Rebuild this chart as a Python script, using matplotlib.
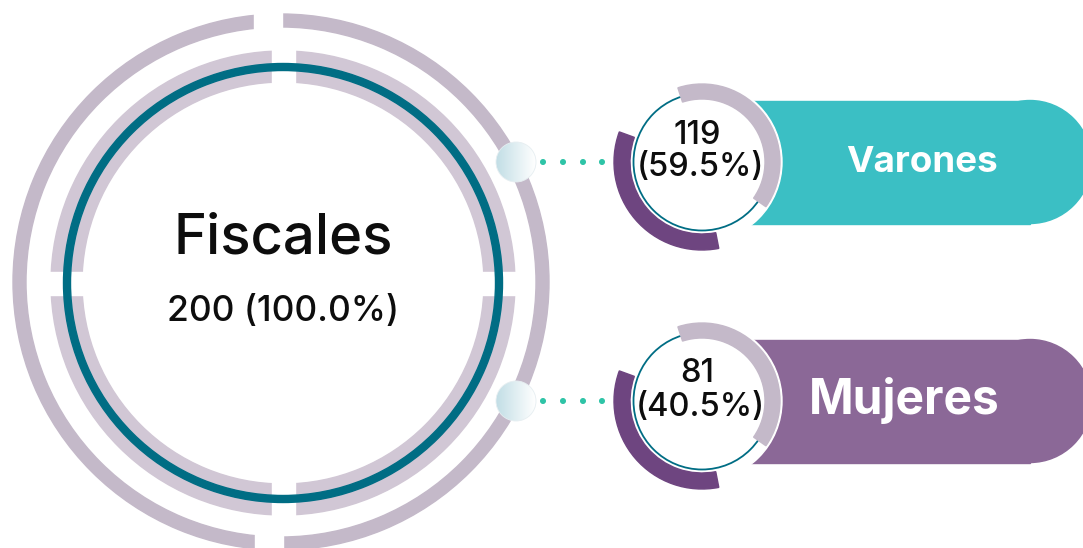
import numpy as np
import matplotlib
matplotlib.use("Agg")
import matplotlib.pyplot as plt
from matplotlib.patches import Circle, Wedge, Rectangle

# ---------------- data ----------------
total_label = "Fiscales"
total_count = 200
categories = ["Varones", "Mujeres"]
counts = [119, 81]
pill_colors = ["#3bbfc4", "#8b6897"]
label_sizes = [26.5, 34.5]

# ---------------- canvas ----------------
W, H = 1083, 548
plt.rcParams['font.family'] = ['Inter', 'DejaVu Sans']
fig = plt.figure(figsize=(W / 100, H / 100), dpi=100)
ax = fig.add_axes([0, 0, 1, 1])
ax.set_xlim(0, W)
ax.set_ylim(0, H)
ax.axis('off')


def Y(y):
    return H - y


LAV_OUT = "#c4b9c9"
LAV_MID = "#d1c7d5"
TEAL = "#006d84"
PURPLE = "#6e4580"
DOT = "#2ec4a7"

# ---------------- big circle ----------------
bcx, bcy = 283, Y(283)
# outer ring
ax.add_patch(Wedge((281, Y(282)), 268, 0, 360, width=13, color=LAV_OUT, zorder=1))
# gaps in outer ring (top / bottom)
ax.add_patch(Rectangle((254, Y(35)), 28, 30, color="white", zorder=2))
ax.add_patch(Rectangle((255, Y(552)), 28, 30, color="white", zorder=2))

# middle ring
ax.add_patch(Wedge((bcx, bcy), 232, 0, 360, width=31, color=LAV_MID, zorder=3))
gap = 23
ax.add_patch(Rectangle((bcx - gap / 2, Y(88)), gap, 45, color="white", zorder=4))
ax.add_patch(Rectangle((bcx - gap / 2, Y(523)), gap, 45, color="white", zorder=4))
ax.add_patch(Rectangle((43, bcy - gap / 2), 45, gap, color="white", zorder=4))
ax.add_patch(Rectangle((478, bcy - gap / 2), 45, gap, color="white", zorder=4))

# teal ring
ax.add_patch(Wedge((bcx, bcy), 219.5, 0, 360, width=7, color=TEAL, zorder=5))

ax.text(bcx, Y(238), total_label, ha='center', va='center', fontsize=40.5,
        fontweight='medium', color="#0d0d0d", zorder=6)
ax.text(bcx, Y(311), f"{total_count} ({100.0:.1f}%)", ha='center', va='center',
        fontsize=25.5, fontweight='medium', color="#0d0d0d", zorder=6)

# ---------------- side groups ----------------
centers_y = [162, 401]
scx = 702
for i, (cat, cnt) in enumerate(zip(categories, counts)):
    cy = Y(centers_y[i])
    # connector bubble with gradient
    ccx, ccy, cr = 516, cy, 20
    circ = Circle((ccx, ccy), cr, facecolor='none', edgecolor='none', zorder=8)
    ax.add_patch(circ)
    grad = np.linspace(0, 1, 64)[None, :]
    grad = np.repeat(grad, 8, axis=0)
    c0 = np.array([0.76, 0.87, 0.90])
    c1 = np.array([1.0, 1.0, 1.0])
    img = c0[None, None, :] * (1 - grad[..., None]) + c1[None, None, :] * grad[..., None]
    im = ax.imshow(img, extent=(ccx - cr, ccx + cr, ccy - cr, ccy + cr), origin='lower',
                   zorder=8, interpolation='bilinear', aspect='auto')
    im.set_clip_path(circ)
    ax.add_patch(Circle((ccx, ccy), cr, facecolor='none', edgecolor="#e6eef1", lw=0.6, zorder=9))
    # dotted line
    for dx in [543, 563, 583, 602]:
        ax.add_patch(Circle((dx, cy), 2.3, color=DOT, zorder=8))

    # pill
    pc = pill_colors[i]
    ax.add_patch(Rectangle((scx, cy - 61.5), 1030 - scx, 123, color=pc, zorder=10))
    ax.add_patch(Circle((1030, cy), 61.5, color=pc, zorder=10))

    # white disc + thin teal circle
    ax.add_patch(Circle((scx, cy), 80, color="white", zorder=11))
    ax.add_patch(Circle((scx, cy), 68.5, facecolor='none', edgecolor=TEAL, lw=1.3, zorder=12))
    # lavender arc
    ax.add_patch(Wedge((scx, cy), 78, -35, 108, width=15, color=LAV_OUT, zorder=13))
    # purple arc
    ax.add_patch(Wedge((scx, cy), 88, 160, 281, width=16, color=PURPLE, zorder=13))

    pct = cnt / total_count * 100
    ax.text(697, cy + 27, f"{cnt}", ha='center', va='center', fontsize=23.5,
            fontweight='medium', color="#0d0d0d", zorder=14)
    ax.text(700, cy - 6, f"({pct:.1f}%)", ha='center', va='center', fontsize=23.5,
            fontweight='medium', color="#0d0d0d", zorder=14)

    ax.text(922 if i == 0 else 904, cy, cat, ha='center', va='center',
            fontsize=label_sizes[i], fontweight='bold', color="white", zorder=14)

fig.savefig("out.png", dpi=100)
